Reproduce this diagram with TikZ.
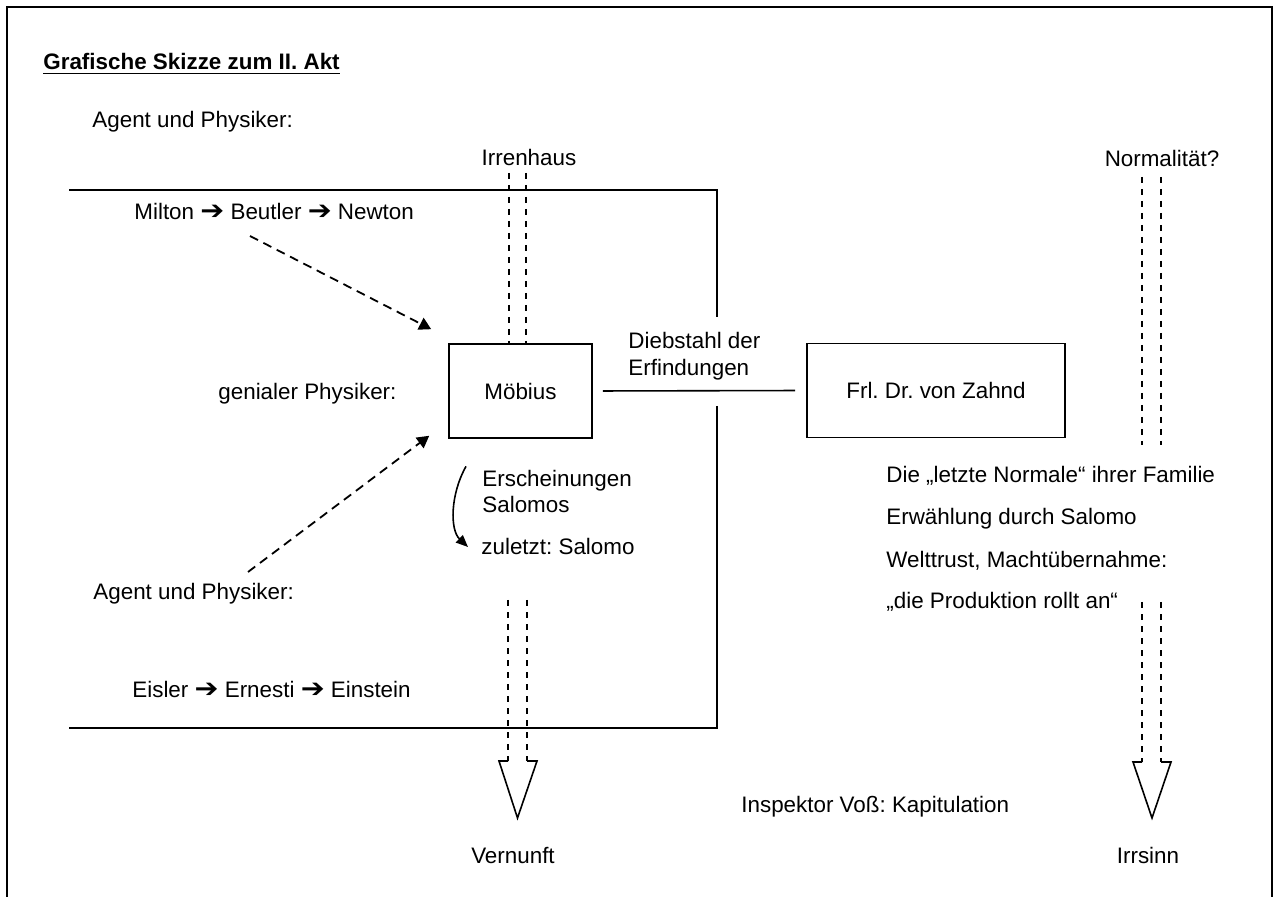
\documentclass[tikz,border=0pt]{standalone}
\usepackage{fontspec}
\usepackage{graphicx}
\setmainfont{Liberation Sans}
\newfontfamily\pfeilfont{DejaVu Sans}
\usetikzlibrary{positioning,arrows.meta}
\frenchspacing

\newcommand{\pf}{\scalebox{1.1}[1]{\pfeilfont\fontsize{13}{14}\selectfont ➔}}

\begin{document}
\begin{tikzpicture}[
    x=0.5pt,y=-0.5pt,
    txt/.style={inner sep=0pt,anchor=base west,font=\fontsize{11.2}{13.4}\selectfont},
    ctxt/.style={txt,anchor=base},
    box/.style={draw,line width=0.8pt,inner sep=0pt,minimum height=47pt,font=\fontsize{11.2}{13.4}\selectfont},
    wall/.style={line width=1pt},
    dline/.style={line width=0.7pt,dash pattern=on 3pt off 3pt},
    darrow/.style={line width=0.9pt,dash pattern=on 4.5pt off 3pt,-{Triangle[length=6pt,width=6.5pt]}},
    head/.style={line width=0.8pt,line join=miter}
  ]
    \useasboundingbox (0,0) rectangle (1274,897);
    % frame
    \draw[line width=1pt] (7,897) -- (7,7) -- (1272,7) -- (1272,897);

    % texts
    \node[txt,font=\bfseries\fontsize{11.2}{13.4}\selectfont] (title) at (43,70) {\underline{Grafische Skizze zum II. Akt}};
    \node[txt] (agent1) at (92,128) {Agent und Physiker:};
    \node[txt] (milton) at (134,220) {Milton \pf{} Beutler \pf{} Newton};
    \node[txt] (genial) at (218,400) {genialer Physiker:};
    \node[txt] (agent2) at (93,600) {Agent und Physiker:};
    \node[txt] (eisler) at (132,697) {Eisler \pf{} Ernesti \pf{} Einstein};
    \node[ctxt] (irren) at (529,166) {Irrenhaus};
    \node[ctxt] (normal) at (1162,167) {Normalität?};
    \node[txt] (dieb1) at (628,349) {Diebstahl der};
    \node[txt] (dieb2) at ([yshift=-13.5pt]dieb1.base west) {Erfindungen};
    \node[txt] (ersch1) at (482,487) {Erscheinungen};
    \node[txt] (ersch2) at ([yshift=-13pt]ersch1.base west) {Salomos};
    \node[txt] (zul) at (481,555) {zuletzt: Salomo};
    \node[txt] (fam) at (886,483) {Die „letzte Normale“ ihrer Familie};
    \node[txt] (wahl) at ([yshift=-20.7pt]fam.base west) {Erwählung durch Salomo};
    \node[txt] (trust) at ([yshift=-21.5pt]wahl.base west) {Welttrust, Machtübernahme:};
    \node[txt] (prod) at ([yshift=-20.5pt]trust.base west) {„die Produktion rollt an“};
    \node[txt] (insp) at (741,812) {Inspektor Voß: Kapitulation};
    \node[ctxt] (vern) at (513,863) {Vernunft};
    \node[ctxt] (irrs) at (1148,863) {Irrsinn};

    % boxes
    \node[box,minimum width=71.5pt] (moebius) at (520.5,391) {Möbius};
    \node[box,minimum width=129pt] (zahnd) at (936,390.5) {Frl. Dr. von Zahnd};

    % Irrenhaus
    \draw[wall] (69,190) -- (717,190) -- (717,317);
    \draw[wall] (717,406) -- (717,728) -- (69,728);
    \draw[line width=0.8pt,shorten <=5pt,shorten >=5.5pt] (moebius.east) -- (zahnd.west);

    % double dashed lines
    \draw[dline] (509,173) -- (509,343);
    \draw[dline] (526,173) -- (526,343);
    \draw[dline] (1142,177) -- (1142,445);
    \draw[dline] (1161,177) -- (1161,445);

    % Vernunft / Irrsinn
    \draw[dline] (508,600) -- (508,761);
    \draw[dline] (527,600) -- (527,761);
    \draw[head] (508,761) -- (499,761) -- (517.5,818) -- (537,761) -- (527,761);
    \draw[dline] (1142,602) -- (1142,762);
    \draw[dline] (1161,602) -- (1161,762);
    \draw[head] (1142,762) -- (1133,762) -- (1152,818) -- (1171,762) -- (1161,762);

    % agents to Moebius
    \coordinate (from1) at (250,236);
    \coordinate (from2) at (248,572);
    \draw[darrow] (from1) -- ([xshift=-8.5pt,yshift=7pt]moebius.north west);
    \draw[darrow] (from2) -- ([xshift=-9.5pt,yshift=1.5pt]moebius.south west);

    % Salomo
    \draw[line width=0.8pt,-{Triangle[length=6pt,width=5pt]}]
      ([xshift=-8pt,yshift=2pt]ersch1.north west) .. controls (450,495) and (450,530) .. ([xshift=-6.5pt]zul.west);
  \end{tikzpicture}
\end{document}
